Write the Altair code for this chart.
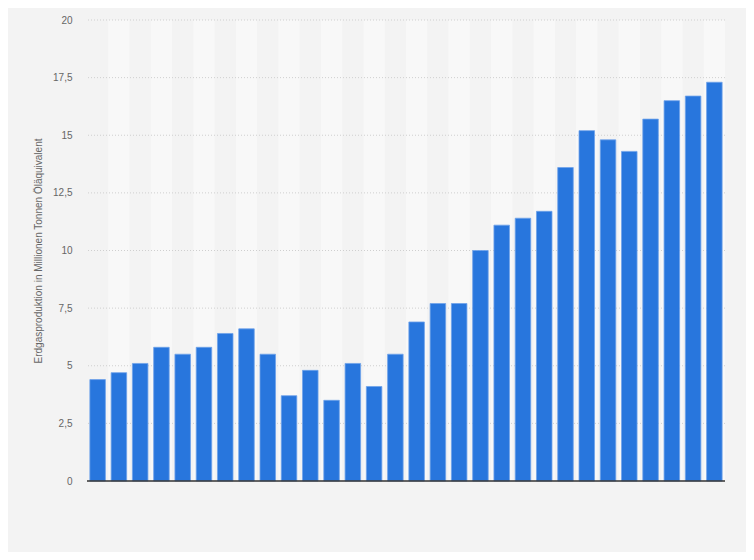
import altair as alt
import pandas as pd

categories = [str(i) for i in range(1, 31)]
values = [4.4, 4.7, 5.1, 5.8, 5.5, 5.8, 6.4, 6.6, 5.5, 3.7,
          4.8, 3.5, 5.1, 4.1, 5.5, 6.9, 7.7, 7.7, 10.0, 11.1,
          11.4, 11.7, 13.6, 15.2, 14.8, 14.3, 15.7, 16.5, 16.7, 17.3]
y_ticks = [0, 2.5, 5, 7.5, 10, 12.5, 15, 17.5, 20]
y_title = "Erdgasproduktion in Millionen Tonnen Öläquivalent"

df = pd.DataFrame({"cat": categories, "value": values})
df["stripe"] = [i % 2 == 1 for i in range(len(categories))]
grid_df = pd.DataFrame({"value": y_ticks[1:]})
base_df = pd.DataFrame({"value": [0]})

W, H = 638, 461

xscale = alt.Scale(domain=categories, paddingInner=0, paddingOuter=0)
xenc = alt.X("cat:N", scale=xscale, sort=categories, axis=None)
yscale = alt.Scale(domain=[0, 20], nice=False)
yaxis = alt.Axis(
    values=y_ticks,
    title=y_title,
    titleFont="Liberation Sans",
    titleFontSize=10,
    titleFontWeight="normal",
    titleColor="#666666",
    titlePadding=9,
    labelFont="Liberation Sans",
    labelFontSize=10,
    labelColor="#666666",
    labelPadding=15,
    labelExpr="replace(toString(datum.value), '.', ',')",
    ticks=False,
    domain=False,
    grid=False,
)
yenc = alt.Y("value:Q", scale=yscale, axis=yaxis, title=y_title)

stripes = alt.Chart(df).transform_filter("datum.stripe").mark_rect(
    fill="#f8f8f8"
).encode(
    x=xenc,
    y=alt.value(0),
    y2=alt.value(H),
)

grid = alt.Chart(grid_df).mark_rule(
    color="#cfcfcf", strokeDash=[1, 2], strokeWidth=1
).encode(y=yenc)

bars = alt.Chart(df).mark_bar(
    width={"band": 0.73},
    color="#2876dd",
    stroke="#6ea2ea",
    strokeWidth=0.8,
).encode(
    x=xenc,
    y=yenc,
    tooltip=["cat", "value"],
)

baseline = alt.Chart(base_df).mark_rule(
    color="#333333", strokeWidth=1.5
).encode(y=yenc)

chart = alt.layer(stripes, grid, bars, baseline).properties(
    width=W,
    height=H,
    background="#f3f3f3",
    padding={"left": 79, "top": 12, "right": 21, "bottom": 71},
    autosize=alt.AutoSizeParams(type="none"),
).configure_view(stroke=None, fill="#f3f3f3")

chart.save("out.html", embed_options={"renderer": "svg", "actions": False})
